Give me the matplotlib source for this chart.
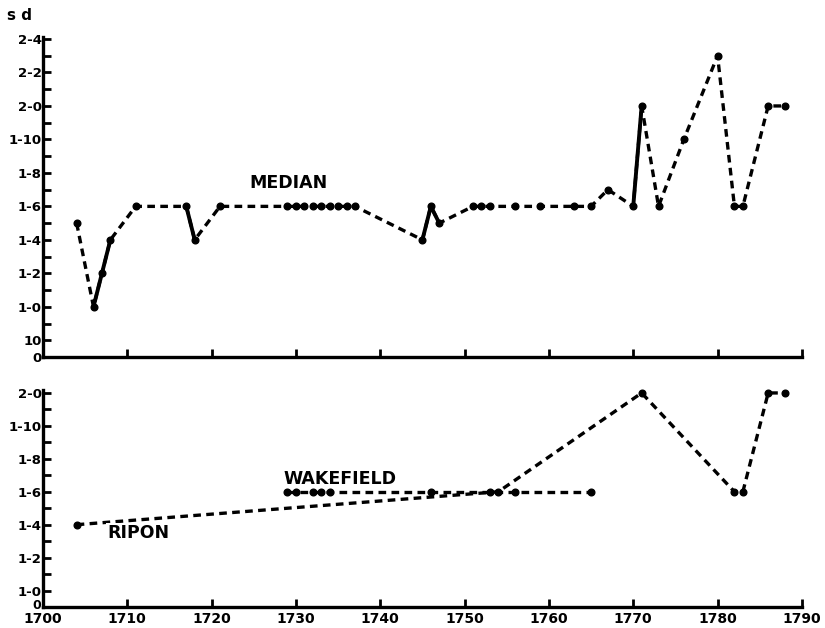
import matplotlib
matplotlib.use("Agg")
import matplotlib.pyplot as plt
from matplotlib.transforms import ScaledTranslation

# prices in pence (1s = 12d)
median_years = [1704, 1706, 1707, 1708, 1711, 1717, 1718, 1721,
                1729, 1730, 1731, 1732, 1733, 1734, 1735, 1736, 1737,
                1745, 1746, 1747, 1751, 1752, 1753, 1756, 1759, 1763, 1765,
                1767, 1770, 1771, 1773, 1776, 1780, 1782, 1783, 1786, 1788]
median_pence = [17, 12, 14, 16, 18, 18, 16, 18,
                18, 18, 18, 18, 18, 18, 18, 18, 18,
                16, 18, 17, 18, 18, 18, 18, 18, 18, 18,
                19, 18, 24, 18, 22, 27, 18, 18, 24, 24]
# runs of consecutive years drawn as a solid line
median_solid = [(1706, 1708), (1717, 1718), (1745, 1747), (1770, 1771)]

ripon_years = [1704, 1754, 1771, 1782, 1783, 1786, 1788]
ripon_pence = [16, 18, 24, 18, 18, 24, 24]

wakefield_years = [1729, 1730, 1732, 1733, 1734, 1746, 1753, 1756, 1765]
wakefield_pence = [18, 18, 18, 18, 18, 18, 18, 18, 18]

top_ticks = [9, 10, 12, 14, 16, 18, 20, 22, 24, 26, 28]
top_labels = ["0", "10", "1-0", "1-2", "1-4", "1-6", "1-8", "1-10", "2-0", "2-2", "2-4"]
bot_ticks = [11, 12, 14, 16, 18, 20, 22, 24]
bot_labels = ["0", "1-0", "1-2", "1-4", "1-6", "1-8", "1-10", "2-0"]
decades = list(range(1700, 1791, 10))

dash = (0, (2.3, 1.6))
lw = 2.4
font = dict(family="DejaVu Sans", weight="bold")

fig = plt.figure(figsize=(8.25, 6.28), dpi=100)
ax1 = fig.add_axes([0.052, 0.4315, 0.920, 0.5096])
ax2 = fig.add_axes([0.052, 0.0334, 0.920, 0.3456])


def style(ax, ticks, labels, ylo, yhi, xlabels):
    ax.set_xlim(1700, 1790)
    ax.set_ylim(ylo, yhi)
    for s in ("top", "right"):
        ax.spines[s].set_visible(False)
    for s in ("left", "bottom"):
        ax.spines[s].set_linewidth(2.4)
    ax.set_yticks(ticks)
    ax.set_yticklabels(labels, fontsize=9.5, **font)
    ax.set_yticks(range(int(ylo), int(yhi) + 1), minor=True)
    ax.set_xticks(decades)
    if xlabels:
        ax.set_xticklabels([str(d) for d in decades], fontsize=10, **font)
    else:
        ax.set_xticklabels([])
    ax.tick_params(axis="both", which="both", direction="in", length=6,
                   width=2, pad=2)
    ax.tick_params(axis="y", which="major", pad=1)
    ax.tick_params(axis="x", which="major", pad=3.5)


style(ax1, top_ticks, top_labels, 9, 28.12, False)
style(ax2, bot_ticks, bot_labels, 11, 24.18, True)
# nudge the lower "0" a little up, between "1-0" and the year labels
zero = ax2.get_yticklabels()[0]
zero.set_fontsize(9)
zero.set_transform(zero.get_transform() + ScaledTranslation(0, 2.5 / 72, fig.dpi_scale_trans))

# median series
ax1.plot(median_years, median_pence, color="black", lw=lw, ls=dash,
         marker="o", ms=4.8, clip_on=False)
for a, b in median_solid:
    xs = [y for y in median_years if a <= y <= b]
    ys = [median_pence[median_years.index(y)] for y in xs]
    ax1.plot(xs, ys, color="black", lw=lw + 0.4, ls="-")
ax1.text(1724.5, 19.4, "MEDIAN", fontsize=12.5, ha="left", va="center", **font)

# towns
ax2.plot(ripon_years, ripon_pence, color="black", lw=lw, ls=dash,
         marker="o", ms=4.8, clip_on=False)
ax2.plot(wakefield_years, wakefield_pence, color="black", lw=lw, ls=dash,
         marker="o", ms=4.8, clip_on=False)
ax2.text(1707.6, 15.5, "RIPON", fontsize=12.5, ha="left", va="center",
         bbox=dict(facecolor="white", edgecolor="none", pad=0.5), **font)
ax2.text(1728.5, 18.8, "WAKEFIELD", fontsize=12.5, ha="left", va="center", **font)

fig.text(0.008, 0.975, "s d", fontsize=11, ha="left", va="center", **font)

fig.savefig("out.png", dpi=100)
